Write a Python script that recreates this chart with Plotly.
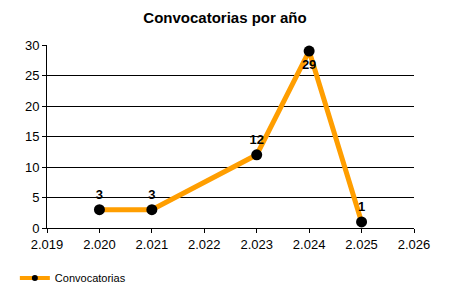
import plotly.graph_objects as go

years = [2020, 2021, 2023, 2024, 2025]
counts = [3, 3, 12, 29, 1]
label_pos = ["top center", "top center", "top center", "bottom center", "top center"]
tick_years = [2019, 2020, 2021, 2022, 2023, 2024, 2025, 2026]
tick_text = ["2.019", "2.020", "2.021", "2.022", "2.023", "2.024", "2.025", "2.026"]
y_ticks = [0, 5, 10, 15, 20, 25, 30]

fig = go.Figure()
fig.add_trace(go.Scatter(
    x=years, y=counts, mode="lines+markers+text", name="Convocatorias",
    line=dict(color="#FF9E00", width=5),
    marker=dict(color="black", size=11),
    text=[str(v) for v in counts], textposition=label_pos,
    textfont=dict(family="Liberation Sans", size=13, color="black", weight="bold"),
    cliponaxis=False, showlegend=False,
))
fig.add_trace(go.Scatter(
    x=[None], y=[None], mode="lines+markers", name="Convocatorias",
    line=dict(color="#FF9E00", width=4),
    marker=dict(color="black", size=6),
))
fig.update_layout(
    width=450, height=300,
    margin=dict(l=47, r=36, t=45, b=72),
    paper_bgcolor="white", plot_bgcolor="white",
    font=dict(family="Liberation Sans", size=13, color="black"),
    title=dict(text="<b>Convocatorias por año</b>", x=0.5, xanchor="center", y=0.94, yanchor="middle",
               font=dict(size=15, color="black")),
    showlegend=True,
    legend=dict(orientation="h", xref="container", yref="container", x=0.033, y=0.073,
                xanchor="left", yanchor="middle", font=dict(size=11), itemwidth=30),
    xaxis=dict(range=[2019, 2026], tickvals=tick_years, ticktext=tick_text,
               showgrid=False, showline=True, linecolor="black", linewidth=1,
               ticks="outside", ticklen=4, tickcolor="black", zeroline=False),
    yaxis=dict(range=[0, 30], tickvals=y_ticks, showgrid=True, gridcolor="black", gridwidth=1,
               showline=True, linecolor="black", linewidth=1,
               ticks="outside", ticklen=4, tickcolor="black", zeroline=False),
)
fig.write_html("out.html")
